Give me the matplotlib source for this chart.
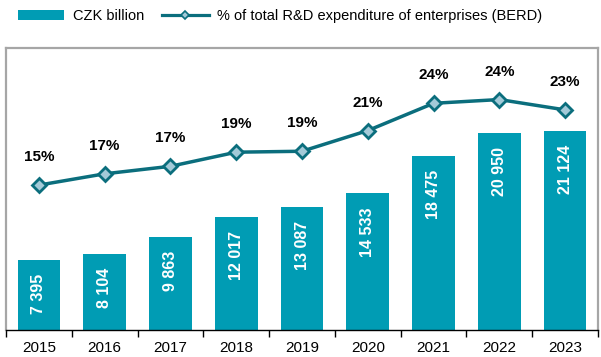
import matplotlib.pyplot as plt
import numpy as np
from matplotlib.lines import Line2D
from matplotlib.patches import Patch

plt.rcParams['font.family'] = ['Liberation Sans', 'DejaVu Sans']

years = ['2015', '2016', '2017', '2018', '2019', '2020', '2021', '2022', '2023']
czk_billion = [7395, 8104, 9863, 12017, 13087, 14533, 18475, 20950, 21124]
berd_share = [15.4, 16.6, 17.4, 18.9, 19.0, 21.2, 24.1, 24.5, 23.4]

bar_color = '#009cb4'
line_color = '#0b6e7d'
marker_fill = '#a3cad8'
frame_gray = '#a6a6a6'


def fmt_space(v):
    return '{:,}'.format(v).replace(',', ' ')


fig = plt.figure(figsize=(6.01, 3.57), dpi=100)
ax = fig.add_axes([0.010, 0.076, 0.985, 0.79])
x = np.arange(len(years))

ax.bar(x, czk_billion, width=0.65, color=bar_color, zorder=2)
for xi, v in zip(x, czk_billion):
    ax.annotate(fmt_space(v), (xi, v), xytext=(0, -10), textcoords='offset points',
                rotation=90, ha='center', va='top', color='white',
                fontsize=11.5, fontweight='bold')

ax.set_xlim(-0.5, len(years) - 0.5)
ax.set_ylim(0, 30000)
ax.set_yticks([])
ax.set_xticks(x)
ax.set_xticklabels(years, fontsize=11)
ax.set_xticks(np.arange(len(years) + 1) - 0.5, minor=True)
ax.tick_params(axis='x', which='major', length=0, pad=8)
ax.tick_params(axis='x', which='minor', length=5, width=1, color='black', direction='out')
for side in ['left', 'top', 'right']:
    ax.spines[side].set_color(frame_gray)
    ax.spines[side].set_linewidth(1.6)
ax.spines['bottom'].set_color('black')
ax.spines['bottom'].set_linewidth(1)

ax2 = ax.twinx()
ax2.plot(x, berd_share, color=line_color, lw=2.5, marker='D', markersize=7.5,
         markerfacecolor=marker_fill, markeredgecolor=line_color, markeredgewidth=2,
         zorder=3)
for xi, v in zip(x, berd_share):
    ax2.annotate('{:.0f}%'.format(v), (xi, v), xytext=(0, 15), textcoords='offset points',
                 ha='center', va='bottom', fontsize=11, fontweight='bold')
ax2.set_ylim(0, 30)
ax2.set_yticks([])
for s in ax2.spines.values():
    s.set_visible(False)

handles = [
    Patch(facecolor=bar_color, edgecolor='none', label='CZK billion'),
    Line2D([0], [0], color=line_color, lw=2.3, marker='D', markersize=4,
           markerfacecolor=marker_fill, markeredgecolor=line_color, markeredgewidth=1.2,
           label='% of total R&D expenditure of enterprises (BERD)'),
]
fig.legend(handles=handles, loc='upper left', bbox_to_anchor=(0.015, 1.0), ncol=2,
           frameon=False, fontsize=10.5, handlelength=3.2, handletextpad=0.6,
           columnspacing=1.2, borderaxespad=0.2)

fig.savefig('out.png', dpi=100)
